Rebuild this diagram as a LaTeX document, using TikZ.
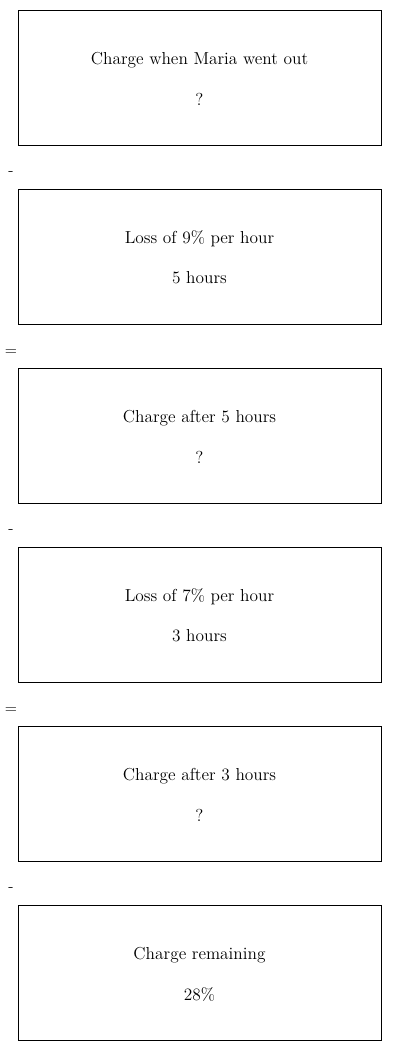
\documentclass[tikz,border=0pt]{standalone}
\usepackage{tikz}
\usetikzlibrary{positioning}

\tikzset{
  stepbox/.style={draw, line width=0.7pt, minimum width=363*0.75pt, minimum height=135*0.75pt, inner sep=0pt},
  boxtext/.style={font=\fontsize{13}{15}\selectfont, align=center},
  opsign/.style={font=\fontsize{12}{14}\selectfont, inner sep=0pt}
}

\begin{document}
\begin{tikzpicture}[x=0.75pt, y=-0.75pt]

\useasboundingbox (0,0) rectangle (400,1051);

% Caixas
\foreach \i/\a/\b in {
0/{Charge when Maria went out}/{?},
1/{Loss of 9\% per hour}/{5 hours},
2/{Charge after 5 hours}/{?},
3/{Loss of 7\% per hour}/{3 hours},
4/{Charge after 3 hours}/{?},
5/{Charge remaining}/{28\%}}
{
\node[stepbox] (b\i) at (199.5, 77.5+179*\i) {};
\node[boxtext] (t\i) at (199.5, 60+179*\i) {\a};
\node[boxtext] (v\i) at (199.5, 99+179*\i) {\b};
}

% Operadores
\foreach \i/\s in {0/-, 1/=, 2/-, 3/=, 4/-}
\node[opsign] (op\i) at (11, 174+179*\i) {\s};

\end{tikzpicture}
\end{document}
